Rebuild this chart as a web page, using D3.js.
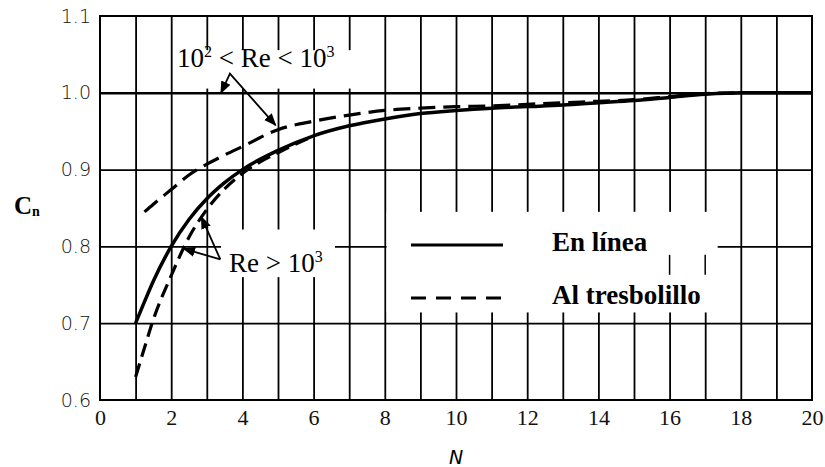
<!DOCTYPE html>
<html>
<head>
<meta charset="utf-8">
<script src="https://cdn.jsdelivr.net/npm/d3@7"></script>
<style>
  html, body { margin: 0; padding: 0; background: #fff; }
  svg { display: block; }
</style>
</head>
<body>
<div id="chart"></div>
<script>
// Datos (N = número de filas, Cn = factor de corrección)
const xTicks = [0, 2, 4, 6, 8, 10, 12, 14, 16, 18, 20];
const yTicks = [0.6, 0.7, 0.8, 0.9, 1.0, 1.1];

// En línea, Re > 10^3 (continua)
const nEnLinea = [1, 1.25, 1.5, 2, 2.5, 3, 3.5, 4, 5, 6, 7, 8, 9, 10, 11, 12, 13, 14, 15, 16, 17, 18, 19, 20];
const cnEnLinea = [0.70, 0.728, 0.755, 0.80, 0.835, 0.862, 0.883, 0.90, 0.925, 0.944, 0.957, 0.966, 0.973, 0.977, 0.980, 0.982, 0.984, 0.987, 0.990, 0.994, 0.998, 1.0, 1.0, 1.0];

// Al tresbolillo, Re > 10^3 (discontinua inferior)
const nTresAlto = [1, 1.25, 1.5, 2, 2.5, 3, 3.5, 4, 4.5, 5, 6];
const cnTresAlto = [0.63, 0.668, 0.705, 0.762, 0.812, 0.848, 0.875, 0.895, 0.91, 0.922, 0.944];

// Al tresbolillo, 10^2 < Re < 10^3 (discontinua superior)
const nTresBajo = [1.25, 1.5, 2, 2.5, 3, 3.5, 4, 5, 6, 7, 8, 9, 10, 11, 12, 13, 14, 15, 16, 17, 18];
const cnTresBajo = [0.845, 0.855, 0.874, 0.893, 0.907, 0.919, 0.93, 0.952, 0.963, 0.971, 0.977, 0.98, 0.982, 0.983, 0.985, 0.987, 0.989, 0.991, 0.995, 0.999, 1.0];

const width = 825, height = 467;
const margin = {top: 16, right: 13, bottom: 67, left: 100};

const svg = d3.select("#chart").append("svg")
    .attr("width", width)
    .attr("height", height)
    .attr("viewBox", [0, 0, width, height]);

const x = d3.scaleLinear().domain([0, 20]).range([margin.left, width - margin.right]);
const y = d3.scaleLinear().domain([0.6, 1.1]).range([height - margin.bottom, margin.top]);

// rejilla
const grid = svg.append("g");
grid.append("g")
    .attr("transform", `translate(0,${y(0.6)})`)
    .call(d3.axisBottom(x).tickValues(d3.range(1, 20)).tickSize(-(y(0.6) - y(1.1))).tickFormat(""))
    .call(g => g.select(".domain").remove())
    .call(g => g.selectAll("line").attr("stroke", "#000").attr("stroke-width", 1.8));
grid.append("g")
    .attr("transform", `translate(${x(0)},0)`)
    .call(d3.axisLeft(y).tickValues([0.7, 0.8, 0.9, 1.0]).tickSize(-(x(20) - x(0))).tickFormat(""))
    .call(g => g.select(".domain").remove())
    .call(g => g.selectAll("line").attr("stroke", "#000")
        .attr("stroke-width", d => d === 1.0 ? 2.6 : 1.8));

// marco
svg.append("rect")
    .attr("x", x(0)).attr("y", y(1.1))
    .attr("width", x(20) - x(0)).attr("height", y(0.6) - y(1.1))
    .attr("fill", "none").attr("stroke", "#000").attr("stroke-width", 2);

// huecos blancos de las etiquetas
const blank = (x0, y0, x1, y1) => svg.append("rect")
    .attr("x", x(x0)).attr("y", y(y1))
    .attr("width", x(x1) - x(x0)).attr("height", y(y0) - y(y1))
    .attr("fill", "#fff");
blank(2.15, 1.0055, 7.1, 1.0555);
blank(3.4, 0.76, 6.6, 0.822);
blank(8.05, 0.714, 17.35, 0.845);

// restos de rejilla dentro de la leyenda
svg.append("g").selectAll("line")
    .data([16, 17])
    .join("line")
    .attr("x1", d => x(d)).attr("x2", d => x(d))
    .attr("y1", y(0.789)).attr("y2", y(0.763))
    .attr("stroke", "#000").attr("stroke-width", 1.5);

// curvas
const line = d3.line().x(d => x(d[0])).y(d => y(d[1])).curve(d3.curveMonotoneX);
const zip = (a, b) => a.map((v, i) => [v, b[i]]);

svg.append("path")
    .datum(zip(nTresBajo, cnTresBajo))
    .attr("d", line)
    .attr("fill", "none").attr("stroke", "#000")
    .attr("stroke-width", 3.2).attr("stroke-dasharray", "17,8");

svg.append("path")
    .datum(zip(nTresAlto, cnTresAlto))
    .attr("d", line)
    .attr("fill", "none").attr("stroke", "#000")
    .attr("stroke-width", 3.2).attr("stroke-dasharray", "14,7");

svg.append("path")
    .datum(zip(nEnLinea, cnEnLinea))
    .attr("d", line)
    .attr("fill", "none").attr("stroke", "#000")
    .attr("stroke-width", 3.5);

// flechas
const defs = svg.append("defs");
defs.append("marker")
    .attr("id", "arrow")
    .attr("viewBox", "0 0 10 10")
    .attr("refX", 9).attr("refY", 5)
    .attr("markerWidth", 7).attr("markerHeight", 7)
    .attr("orient", "auto-start-reverse")
    .append("path").attr("d", "M0,1 L10,5 L0,9 Z").attr("fill", "#000");

const arrowLine = d3.line().x(d => x(d[0])).y(d => y(d[1]));
svg.append("path")
    .datum([[3.4, 1.0], [3.65, 1.025], [4.93, 0.958]])
    .attr("d", arrowLine)
    .attr("fill", "none").attr("stroke", "#000").attr("stroke-width", 1.8)
    .attr("marker-start", "url(#arrow)").attr("marker-end", "url(#arrow)");

svg.append("path")
    .datum([[2.85, 0.838], [3.38, 0.783]])
    .attr("d", arrowLine)
    .attr("fill", "none").attr("stroke", "#000").attr("stroke-width", 1.8)
    .attr("marker-start", "url(#arrow)");
svg.append("path")
    .datum([[2.35, 0.797], [3.38, 0.783]])
    .attr("d", arrowLine)
    .attr("fill", "none").attr("stroke", "#000").attr("stroke-width", 1.8)
    .attr("marker-start", "url(#arrow)");

// textos de anotación
const serif = "'Liberation Serif', 'Times New Roman', serif";
const t1 = svg.append("text")
    .attr("x", 177).attr("y", 67)
    .style("font-family", serif).attr("font-size", 27);
t1.append("tspan").text("10");
t1.append("tspan").attr("dy", -10).attr("font-size", 16).text("2");
t1.append("tspan").attr("dy", 10).text(" < Re < 10");
t1.append("tspan").attr("dy", -10).attr("font-size", 16).text("3");

const t2 = svg.append("text")
    .attr("x", 229).attr("y", 272)
    .style("font-family", serif).attr("font-size", 27);
t2.append("tspan").text("Re > 10");
t2.append("tspan").attr("dy", -10).attr("font-size", 16).text("3");

// leyenda
const legend = [
    {label: "En línea", dash: null, yPos: 245},
    {label: "Al tresbolillo", dash: "15,10", yPos: 298}
];
const lg = svg.append("g").selectAll("g").data(legend).join("g");
lg.append("line")
    .attr("x1", 411).attr("x2", 503)
    .attr("y1", d => d.yPos).attr("y2", d => d.yPos)
    .attr("stroke", "#000").attr("stroke-width", 3)
    .attr("stroke-dasharray", d => d.dash);
lg.append("text")
    .attr("x", 552).attr("y", d => d.yPos + 6)
    .style("font-family", serif).attr("font-weight", "bold").attr("font-size", 27)
    .text(d => d.label);

// ejes
const xAxis = svg.append("g")
    .attr("transform", `translate(0,${y(0.6)})`)
    .call(d3.axisBottom(x).tickValues(xTicks).tickSize(0).tickPadding(8).tickFormat(d3.format("d")));
xAxis.select(".domain").remove();
xAxis.selectAll("text")
    .style("font-family", serif).attr("font-size", 22).attr("fill", "#111")
    .attr("dy", "0.75em");

const yAxis = svg.append("g")
    .attr("transform", `translate(${x(0)},0)`)
    .call(d3.axisLeft(y).tickValues(yTicks).tickSize(0).tickPadding(9).tickFormat(d3.format(".1f")));
yAxis.select(".domain").remove();
yAxis.selectAll("text")
    .style("font-family", "'DejaVu Sans', sans-serif").attr("font-weight", 200)
    .attr("font-size", 19).attr("fill", "#111");

// títulos de ejes
const yt = svg.append("text")
    .attr("x", 14).attr("y", 214)
    .style("font-family", serif).attr("font-weight", "bold").attr("font-size", 25);
yt.append("tspan").text("C");
yt.append("tspan").attr("dy", 2).attr("font-size", 14).text("n");

svg.append("text")
    .attr("x", x(10)).attr("y", 464)
    .attr("text-anchor", "middle")
    .style("font-family", "'DejaVu Sans', sans-serif").attr("font-style", "italic")
    .attr("font-weight", 200).attr("font-size", 19)
    .text("N");
</script>
</body>
</html>
